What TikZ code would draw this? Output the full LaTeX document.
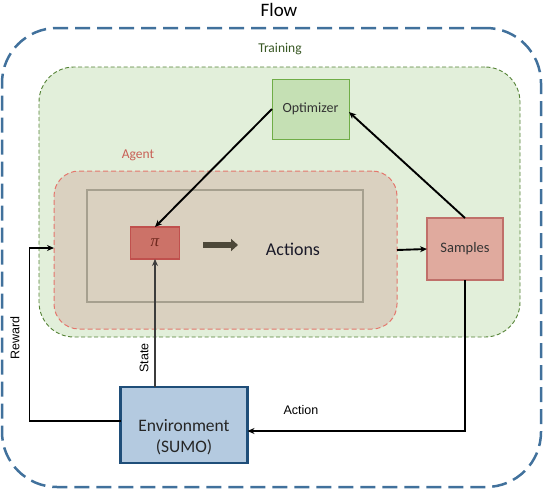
\documentclass[tikz,border=0pt]{standalone}
\usepackage{fontspec}
\setmainfont{Carlito}
\newfontfamily\labelfont{Liberation Sans}
\newfontfamily\pifont{Liberation Serif}
\usetikzlibrary{arrows.meta}
\definecolor{flowblue}{RGB}{65,113,156}
\definecolor{trainfill}{RGB}{226,239,218}
\definecolor{trainline}{RGB}{84,130,53}
\definecolor{traintext}{RGB}{56,87,35}
\definecolor{optfill}{RGB}{197,224,180}
\definecolor{optline}{RGB}{112,173,71}
\definecolor{agentfill}{RGB}{218,209,192}
\definecolor{agentline}{RGB}{228,118,108}
\definecolor{agenttext}{RGB}{200,95,85}
\definecolor{innerline}{RGB}{166,160,143}
\definecolor{pifill}{RGB}{204,114,104}
\definecolor{piline}{RGB}{192,80,77}
\definecolor{pitext}{RGB}{110,40,30}
\definecolor{sampfill}{RGB}{224,170,158}
\definecolor{sampline}{RGB}{192,112,106}
\definecolor{envfill}{RGB}{180,202,224}
\definecolor{envline}{RGB}{31,78,121}
\definecolor{thickarr}{RGB}{77,72,57}
\definecolor{statecol}{RGB}{60,60,60}
\definecolor{actionstext}{RGB}{25,25,40}
\tikzset{
  fs/.style={font=\fontsize{#1}{#1}\selectfont},
  region/.style={inner sep=0pt,outer sep=0pt},
  boxnode/.style={draw,inner sep=0pt,outer sep=0pt,text=black!80},
  arr/.style={line width=1.9pt,-{Stealth[length=7pt,width=6pt]}},
  lbl/.style={font=\labelfont\fontsize{12.5}{12.5}\selectfont,inner sep=0pt},
}
\begin{document}
\begin{tikzpicture}[x=1pt,y=-1pt]
\useasboundingbox (0,0) rectangle (544,490);
% outer Flow region
\node[region,draw=flowblue,line width=2.5pt,dash pattern=on 15pt off 7pt,rounded corners=55pt,minimum width=539pt,minimum height=459pt] (flow) at (271.5,257.5) {};
\node[fs=19,inner sep=0pt] (flowlbl) at (279,10) {Flow};
% training region
\node[region,draw=trainline,fill=trainfill,line width=0.9pt,dash pattern=on 4pt off 2.5pt,rounded corners=35pt,minimum width=481pt,minimum height=270pt] (train) at (279.5,202) {};
\node[fs=13.5,text=traintext,inner sep=0pt] (trainlbl) at (280,49) {Training};
% agent region
\node[region,draw=agentline,fill=agentfill,line width=1pt,dash pattern=on 5pt off 3pt,rounded corners=25pt,minimum width=343pt,minimum height=158pt] (agent) at (225.5,250) {};
\node[fs=13.5,text=agenttext,inner sep=0pt] (agentlbl) at (138,155) {Agent};
\node[region,draw=innerline,line width=1.5pt,minimum width=276pt,minimum height=112pt] (inner) at (225,246) {};
% boxes
\node[boxnode,fill=optfill,draw=optline,line width=1pt,minimum width=77pt,minimum height=60pt,fs=14] (opt) at (310.5,109) {Optimizer};
\node[boxnode,fill=pifill,draw=piline,line width=1.5pt,minimum width=49pt,minimum height=32pt,font=\pifont\itshape\fontsize{17}{17}\selectfont,text=pitext] (pi) at (155,243) {π};
\node[boxnode,fill=sampfill,draw=sampline,line width=2pt,minimum width=76pt,minimum height=62pt,fs=14.5] (samp) at (465,249) {Samples};
\node[boxnode,fill=envfill,draw=envline,line width=2.8pt,minimum width=127pt,minimum height=76pt] (env) at (184,425) {};
\node[fs=17.5,align=center,inner sep=0pt,text=black!85] (envtxt) at (184,437) {Environment\\[4pt](SUMO)};
\node[fs=18,inner sep=0pt,text=actionstext] (actions) at (293,249) {Actions};
% thick arrow
\coordinate (ta1) at (203,245);
\coordinate (ta2) at (238,245);
\draw[thickarr,line width=6pt,-{Triangle[length=7pt,width=12pt]}] (ta1) -- (ta2);
% connectors
\draw[arr] (samp.north) -- ([yshift=-3pt]opt.east);
\draw[arr] (opt.west) -- (pi.north);
\draw[arr] (agent.east) -- (samp.west);
\draw[arr,statecol] (pi.south |- env.north) -- (pi.south);
\draw[arr] (samp.south) |- ([yshift=-6pt]env.east);
\coordinate (rcorner) at (29.5,248);
\draw[arr] ([yshift=4pt]env.west) -| (rcorner) -- (agent.west |- rcorner);
% labels
\node[lbl,rotate=90] (statelbl) at (144,358) {State};
\node[lbl,rotate=90] (rewardlbl) at (15,338) {Reward};
\node[lbl] (actionlbl) at (301,410) {Action};
\end{tikzpicture}
\end{document}
